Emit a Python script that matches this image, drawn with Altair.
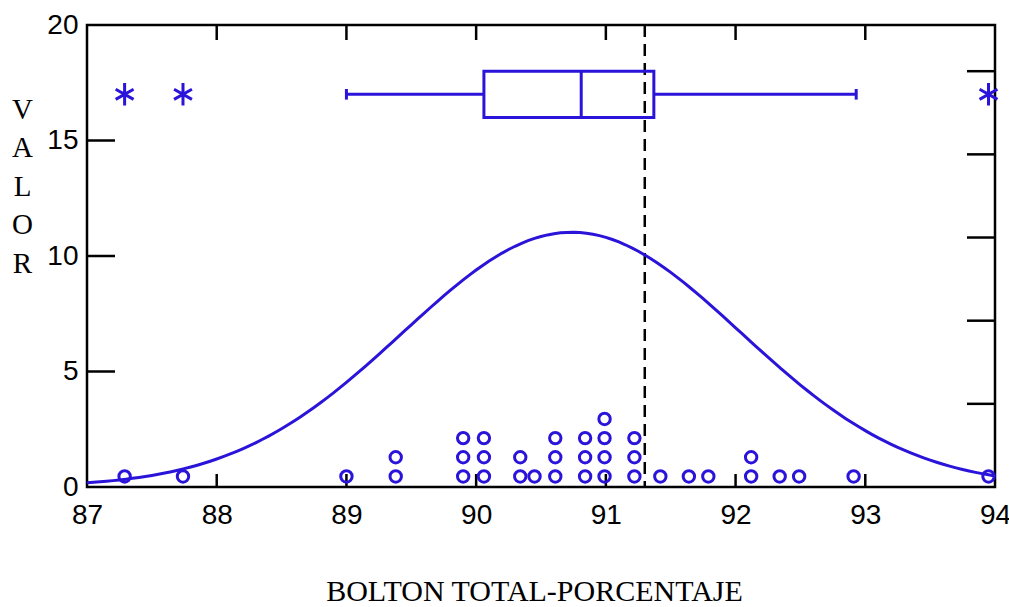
import numpy as np
import pandas as pd
import altair as alt

# Bolton overall ratio (%) — dot stacks: position and number of cases
stack_x = [87.29, 87.74, 89.00, 89.38, 89.90, 90.06, 90.34, 90.45, 90.61, 90.84,
           90.99, 91.22, 91.42, 91.64, 91.79, 92.12, 92.34, 92.49, 92.91, 93.95]
stack_n = [1, 1, 1, 2, 3, 3, 2, 1, 3, 3, 4, 3, 1, 1, 1, 2, 1, 1, 1, 1]

# Box plot summary (hinges, median, whisker ends) and its height on the value axis
box_q1, box_med, box_q3 = 90.06, 90.81, 91.37
whisk_lo, whisk_hi = 89.00, 92.93
box_center = 17

# Reference norm (dashed line)
ref_value = [91.3]

# Axis ticks
x_ticks = [87, 88, 89, 90, 91, 92, 93, 94]
y_ticks = [0, 5, 10, 15, 20]
prop_ticks = [0.1, 0.2, 0.3, 0.4, 0.5]  # proportion-per-bar scale on the right

BLUE = "#2b14d9"
W, H = 908, 462
DOT_STEP = 0.83
LW = 2.5
BLW = 3

values = np.repeat(stack_x, stack_n)
N = len(values)
mu, sd = values.mean(), values.std(ddof=1)

# fitted normal curve scaled to counts per unit
gx = np.linspace(87, 94, 141)
gy = N * np.exp(-0.5 * ((gx - mu) / sd) ** 2) / (sd * np.sqrt(2 * np.pi))
curve_df = pd.DataFrame({"x": gx, "y": gy})

dots = []
for x, n in zip(stack_x, stack_n):
    for k in range(n):
        dots.append({"x": x, "y": (k + 0.55) * DOT_STEP})
dots_df = pd.DataFrame(dots)

outliers_df = pd.DataFrame({"x": [v for v in stack_x if v < whisk_lo or v > whisk_hi],
                            "y": box_center})

xs = alt.Scale(domain=[87, 94], nice=False, zero=False)
ys = alt.Scale(domain=[0, 20], nice=False, zero=False)

x_axis = alt.Axis(values=x_ticks, ticks=False, domain=False, grid=False,
                  labelFont="Liberation Sans", labelFontSize=28, labelColor="black",
                  labelPadding=14, labelFlush=False,
                  title="BOLTON TOTAL-PORCENTAJE", titleFont="Liberation Serif",
                  titleFontSize=30, titleFontWeight="normal", titleColor="black",
                  titlePadding=47, titleX=447, titleAlign="center")
y_axis = alt.Axis(values=y_ticks, ticks=False, domain=False, grid=False,
                  labelFont="Liberation Sans", labelFontSize=28, labelColor="black",
                  labelPadding=9, labelFlush=False,
                  title=["V", "A", "L", "O", "R"], titleFont="Liberation Serif",
                  titleFontSize=29, titleFontWeight="normal", titleColor="black",
                  titleAngle=0, titleAlign="center", titleBaseline="top",
                  titleX=-65, titleY=70, titleLineHeight=38.5)


def X(field="x"):
    return alt.X(f"{field}:Q", scale=xs, axis=x_axis)


def Y(field="y"):
    return alt.Y(f"{field}:Q", scale=ys, axis=y_axis)


dot_layer = alt.Chart(dots_df).mark_point(
    shape="circle", size=130, filled=False, color=BLUE, strokeWidth=BLW, opacity=1
).encode(x=X(), y=Y())

curve_layer = alt.Chart(curve_df).mark_line(color=BLUE, strokeWidth=BLW).encode(
    x=X(), y=Y())

ref_layer = alt.Chart(pd.DataFrame({"x": ref_value})).mark_rule(
    color="black", strokeWidth=LW, strokeDash=[12, 7]
).encode(x=X(), y=alt.value(0), y2=alt.value(H))

box_df = pd.DataFrame({"x": [box_q1], "x2": [box_q3],
                       "y": [box_center - 1], "y2": [box_center + 1]})
box_layer = alt.Chart(box_df).mark_rect(
    fillOpacity=0, stroke=BLUE, strokeWidth=BLW
).encode(x=X(), x2="x2:Q", y=Y(), y2="y2:Q")

med_layer = alt.Chart(pd.DataFrame({"x": [box_med], "y": [box_center - 1],
                                    "y2": [box_center + 1]})).mark_rule(
    color=BLUE, strokeWidth=BLW
).encode(x=X(), y=Y(), y2="y2:Q")

whisk_df = pd.DataFrame({"x": [whisk_lo, box_q3], "x2": [box_q1, whisk_hi],
                         "y": [box_center, box_center]})
whisk_layer = alt.Chart(whisk_df).mark_rule(color=BLUE, strokeWidth=BLW).encode(
    x=X(), x2="x2:Q", y=Y())

cap_df = pd.DataFrame({"x": [whisk_lo, whisk_hi], "y": [box_center - 0.23] * 2,
                       "y2": [box_center + 0.23] * 2})
cap_layer = alt.Chart(cap_df).mark_rule(color=BLUE, strokeWidth=BLW).encode(
    x=X(), y=Y(), y2="y2:Q")

ASTERISK = "M0,-1L0,1M-0.8,-0.45L0.8,0.45M-0.8,0.45L0.8,-0.45"
out_layer = alt.Chart(outliers_df).mark_point(
    shape=ASTERISK, size=500, filled=False, color=BLUE, strokeWidth=3, opacity=1
).encode(x=X(), y=Y())

# inward tick marks on all four sides of the frame
inner = [t for t in x_ticks if 87 < t < 94]
bottom_ticks = alt.Chart(pd.DataFrame({"x": inner})).mark_rule(
    color="black", strokeWidth=LW).encode(x=X(), y=alt.value(H), y2=alt.value(H - 13))
top_ticks = alt.Chart(pd.DataFrame({"x": inner})).mark_rule(
    color="black", strokeWidth=LW).encode(x=X(), y=alt.value(0), y2=alt.value(15))
left_ticks = alt.Chart(pd.DataFrame({"y": [t for t in y_ticks if 0 < t < 20]})).mark_rule(
    color="black", strokeWidth=LW).encode(y=Y(), x=alt.value(0), x2=alt.value(28))
right_ticks = alt.Chart(pd.DataFrame({"y": [p * N for p in prop_ticks]})).mark_rule(
    color="black", strokeWidth=LW).encode(y=Y(), x=alt.value(W), x2=alt.value(W - 28))

chart = alt.layer(
    bottom_ticks, top_ticks, left_ticks, right_ticks,
    ref_layer, curve_layer, box_layer, med_layer, whisk_layer, cap_layer,
    dot_layer, out_layer
).properties(
    width=W, height=H,
    autosize=alt.AutoSizeParams(type="none"),
    padding={"left": 87, "top": 25, "right": 14, "bottom": 120},
    background="white",
).configure_view(stroke="black", strokeWidth=LW)

chart.save("out.html", embed_options={"renderer": "svg", "actions": False})
